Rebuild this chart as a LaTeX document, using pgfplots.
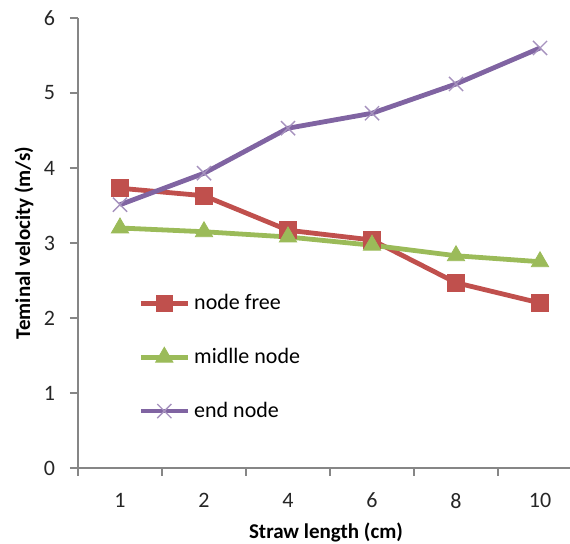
\documentclass[border=0pt]{standalone}
\usepackage{pgfplots}
\pgfplotsset{compat=1.18}
\usepackage{fontspec}
\setmainfont{Carlito}
\definecolor{cred}{HTML}{C0504D}
\definecolor{cgreen}{HTML}{9BBB59}
\definecolor{cpurple}{HTML}{8064A2}
\definecolor{axgray}{HTML}{868686}
\begin{document}
\begin{tikzpicture}
\useasboundingbox (0,0) rectangle (285pt,272pt);
\begin{axis}[
 at={(39pt,38pt)}, anchor=south west,
 scale only axis, width=246pt, height=225pt,
 xmin=-0.5, xmax=5.357, ymin=0, ymax=6,
 clip=false,
 axis x line*=bottom, axis y line*=left,
 axis line style={draw=axgray, line width=0.8pt},
 tick align=outside,
 major tick length=4pt,
 ytick={0,...,6},
 ytick style={draw=axgray, line width=0.8pt},
 xtick={0,...,5}, xticklabels={1,2,4,6,8,10},
 xtick style={draw=none},
 extra x ticks={-0.5,0.5,1.5,2.5,3.5,4.5},
 extra x tick labels={},
 extra x tick style={xtick style={draw=axgray, line width=0.8pt}},
 tick label style={font=\fontsize{11}{13}\selectfont, text=black!85},
 x tick label style={yshift=-5pt},
 y tick label style={xshift=-4pt},
 /pgf/number format/assume math mode=true,
 xlabel={\textbf{Straw length (cm)}},
 ylabel={\textbf{Teminal velocity (m/s)}},
 label style={font=\fontsize{10.5}{12}\selectfont},
 xlabel style={at={(axis description cs:0.504,-0.144)}, anchor=center},
 ylabel style={at={(axis description cs:-0.11,0.5)}, anchor=center},
 legend style={draw=none, fill=none, font=\fontsize{11}{13}\selectfont,
   at={(axis description cs:0.122,0.396)}, anchor=north west,
   inner sep=0pt, row sep=13.8pt, cells={anchor=west}},
 legend cell align=left,
 legend image code/.code={\draw[mark repeat=2,mark phase=2] plot coordinates {(0pt,0pt) (11.75pt,0pt) (23.5pt,0pt)};},
]
\addplot[cred, line width=2.4pt, mark=square*, mark size=4.2pt, mark options={solid, line width=0.4pt}]
 coordinates {(0,3.73) (1,3.63) (2,3.17) (3,3.04) (4,2.47) (5,2.20)};
\addlegendentry{node free}
\addplot[cgreen, line width=2.4pt, mark=triangle*, mark size=5pt, mark options={solid, line width=0.4pt}]
 coordinates {(0,3.20) (1,3.15) (2,3.08) (3,2.97) (4,2.83) (5,2.75)};
\addlegendentry{midlle node}
\addplot[cpurple, line width=2.4pt, mark=x, mark size=5pt, mark options={solid, line width=0.7pt, draw=cpurple!70}]
 coordinates {(0,3.51) (1,3.93) (2,4.53) (3,4.73) (4,5.12) (5,5.60)};
\addlegendentry{end node}
\end{axis}
\end{tikzpicture}
\end{document}
